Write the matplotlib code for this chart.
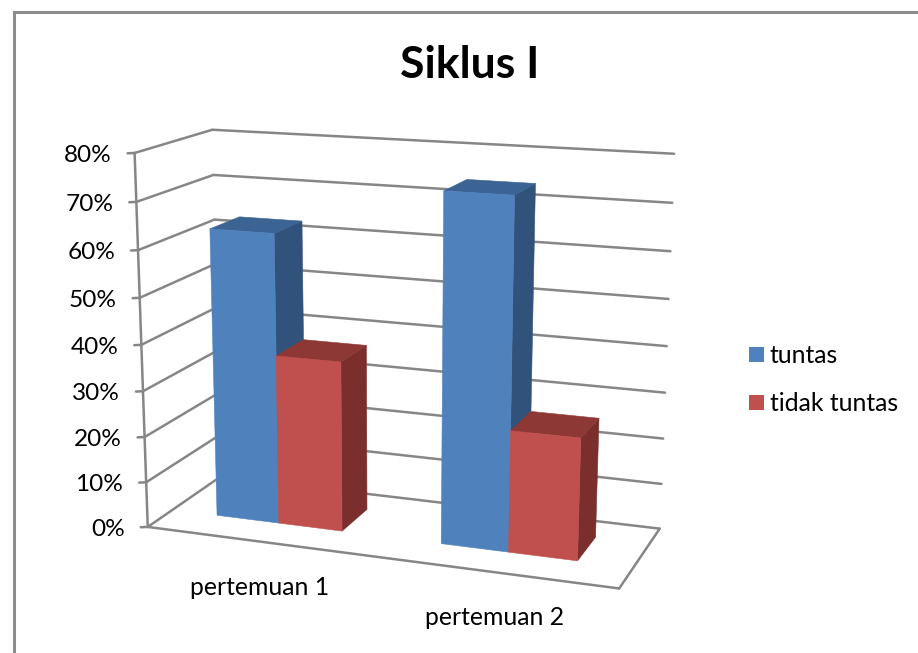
import numpy as np
import matplotlib
matplotlib.use('Agg')
import matplotlib.pyplot as plt

categories = ['pertemuan 1', 'pertemuan 2']
series_names = ['tuntas', 'tidak tuntas']
tuntas = [63, 74]
tidak_tuntas = [37, 26]
ticks = [0, 10, 20, 30, 40, 50, 60, 70, 80]

plt.rcParams['font.family'] = ['Lato', 'DejaVu Sans']

# where the box corners of the 3d chart sit on the page: x, depth, value -> pixel
calib = [
    (0, 0, 0, 148.5, 525.5), (1, 0, 0, 619, 590),
    (0, 1, 0, 220, 478), (1, 1, 0, 660, 527),
    (0, 0, 80, 134, 153), (0, 1, 80, 213, 129.5),
    (1, 1, 80, 674, 154),
]
rows = []
for x, z, v, u, w in calib:
    p = [x, z, v / 80, 1]
    rows.append(p + [0, 0, 0, 0] + [-u * c for c in p])
    rows.append([0, 0, 0, 0] + p + [-w * c for c in p])
cam = np.linalg.svd(np.array(rows))[2][-1].reshape(3, 4)


def proj(x, z, v):
    h = cam @ np.array([x, z, v / 80, 1])
    return h[0] / h[2], h[1] / h[2]


fig = plt.figure(figsize=(9.18, 6.53), dpi=100)
ax = fig.add_axes([0, 0, 1, 1])
ax.set_xlim(0, 918)
ax.set_ylim(653, 0)
ax.axis('off')

grid = '#868686'


def line(a, b, lw=1.8, c=grid):
    ax.plot([a[0], b[0]], [a[1], b[1]], color=c, lw=lw, solid_capstyle='round')


# chart border, only top and left are in the crop
ax.plot([14, 14, 918], [653, 12, 12], color='#8c8c8c', lw=2.2, solid_joinstyle='miter')

for t in ticks:
    fl = proj(0, 0, t)
    bl = proj(0, 1, t)
    br = proj(1, 1, t)
    line(fl, bl)
    line(bl, br)
    line((fl[0] - 7, fl[1] + 0.3), fl)
    ax.text(fl[0] - 23, fl[1] + 2.5, f'{t}%', ha='right', va='center', fontsize=17.6, color='black')

line(proj(0, 0, 0), proj(0, 0, 80))
line(proj(0, 0, 0), proj(1, 0, 0))
line(proj(1, 0, 0), proj(1, 1, 0))

bar_w = 0.142
z0, z1 = 0.325, 0.73
centers = [0.246, 0.746]
front = ['#4F81BD', '#C0504D']
side = ['#31527A', '#7A2F2D']
top = ['#3B6494', '#8E3835']


def bar(x0, x1, val, i):
    def quad(pts, c):
        xy = [proj(*p) for p in pts]
        ax.fill([q[0] for q in xy], [q[1] for q in xy], color=c, lw=0.4, zorder=3)
    quad([(x1, z0, 0), (x1, z1, 0), (x1, z1, val), (x1, z0, val)], side[i])
    quad([(x0, z0, val), (x1, z0, val), (x1, z1, val), (x0, z1, val)], top[i])
    quad([(x0, z0, 0), (x1, z0, 0), (x1, z0, val), (x0, z0, val)], front[i])


for k, c in enumerate(centers):
    bar(c - bar_w, c, tuntas[k], 0)
    bar(c, c + bar_w, tidak_tuntas[k], 1)
    p = proj(c, 0, 0)
    ax.text(p[0] + 3, p[1] + 46, categories[k], ha='center', va='center', fontsize=17.8, color='black')

ax.text(470, 65, 'Siklus I', ha='center', va='center', fontsize=32, fontweight='bold', color='black')

for name, c, y in zip(series_names, front, [354.5, 402.5]):
    ax.fill([749, 764, 764, 749], [y - 7.5, y - 7.5, y + 7.5, y + 7.5], color=c, lw=0)
    ax.text(770, y + 1, name, ha='left', va='center', fontsize=17.8, color='black')

fig.savefig('out.png', dpi=100)
